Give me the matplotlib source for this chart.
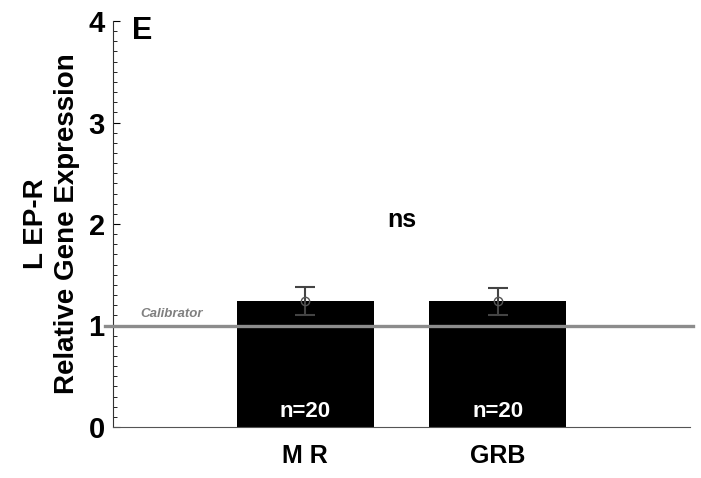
import matplotlib
matplotlib.use("Agg")
import matplotlib.pyplot as plt
import numpy as np
from matplotlib.ticker import MultipleLocator

plt.rcParams['font.family'] = ['Liberation Sans', 'DejaVu Sans']

# data
groups = ['M R', 'GRB']
means = [1.24, 1.24]
err_lo = [0.14, 0.14]
err_hi = [0.14, 0.13]
n_labels = ['n=20', 'n=20']
calibrator = 1.0

fig = plt.figure(figsize=(7.01, 4.78), dpi=100)
ax = fig.add_axes([113/701, 1 - 427/478, (690 - 113)/701, (427 - 21)/478])

x = np.arange(1, len(groups) + 1)
ax.bar(x, means, width=0.71, color='black', zorder=2)
ax.errorbar(x, means, yerr=[err_lo, err_hi], fmt='o', mfc='none', mec='#555555',
            ms=6, ecolor='#444444', elinewidth=1.5, capsize=7, capthick=1.5, zorder=4)

# calibrator line, runs a little past the axis on the left
ax.axhline(calibrator, xmin=-0.014, xmax=1.005, color='#8c8c8c', lw=2.4,
           clip_on=False, zorder=3)
ax.text(0.14, calibrator + 0.05, 'Calibrator', style='italic', fontweight='bold',
        color='#808080', fontsize=9.5, ha='left', va='bottom')

for xi, lab in zip(x, n_labels):
    ax.text(xi, 0.05, lab, color='white', fontweight='bold', fontsize=16,
            ha='center', va='bottom', zorder=5)

ax.text(1.5, 1.92, 'ns', fontweight='bold', fontsize=18, ha='center', va='bottom')
ax.text(0.1, 3.9, 'E', fontweight='bold', fontsize=22, ha='left', va='center')

ax.set_xlim(0, 3)
ax.set_ylim(0, 4)
ax.set_xticks(x)
ax.set_xticklabels(groups, fontweight='bold', fontsize=18)
ax.tick_params(axis='x', length=0, pad=12)
ax.yaxis.set_major_locator(MultipleLocator(1))
ax.yaxis.set_minor_locator(MultipleLocator(0.1))
ax.tick_params(axis='y', which='major', direction='in', length=5, labelsize=21, pad=6)
ax.tick_params(axis='y', which='minor', direction='in', length=3)
for lab in ax.get_yticklabels():
    lab.set_fontweight('bold')

ax.set_ylabel('L EP-R\nRelative Gene Expression', fontweight='bold', fontsize=20,
              linespacing=1.25, labelpad=6)

for s in ['top', 'right']:
    ax.spines[s].set_visible(False)
ax.spines['left'].set_color('#333333')
ax.spines['bottom'].set_color('#555555')

fig.savefig('out.png', dpi=100)
